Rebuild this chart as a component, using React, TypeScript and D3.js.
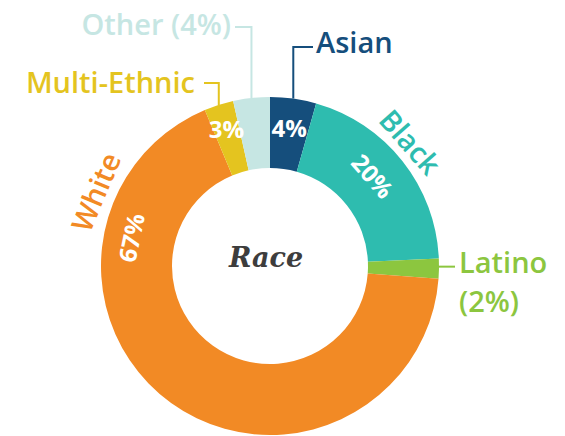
import React from 'react';
import * as d3 from 'd3';

// ---- data ----
const categories = ['Asian', 'Black', 'Latino', 'White', 'Multi-Ethnic', 'Other'];
const values = [4.4, 19.9, 1.9, 67.5, 2.8, 3.5];
const percentLabels = ['4%', '20%', '(2%)', '67%', '3%', '(4%)'];
const colors = ['#154e7c', '#2ebcaf', '#8cc63f', '#f28a25', '#e4c41f', '#c6e6e3'];
const centerTitle = 'Race';

// ---- layout ----
const W = 565;
const H = 436;
const cx = 270;
const cy = 266;
const R = 169;
const r0 = 98;
const FONT = '"Open Sans", Lato, sans-serif';

const toXY = (a: number, r: number): [number, number] => [cx + r * Math.sin(a), cy - r * Math.cos(a)];
const deg = (a: number) => (a * 180) / Math.PI;

export default function App() {
  const pie = d3.pie<number>().sort(null).value((d) => d);
  const arcs = pie(values);
  const arcGen = d3.arc<d3.PieArcDatum<number>>().innerRadius(r0).outerRadius(R);
  const mid = (i: number) => (arcs[i].startAngle + arcs[i].endAngle) / 2;

  const lbl = 29;
  const pct = 24;

  const iAsian = 0, iBlack = 1, iLatino = 2, iWhite = 3, iMulti = 4, iOther = 5;
  const pA = toXY(mid(iAsian), R);
  const pO = toXY(mid(iOther), R);
  const pM = toXY(mid(iMulti), R);
  const pL = toXY(mid(iLatino), R);

  const a4 = toXY(mid(iAsian), 140);
  const a3 = toXY(mid(iMulti), 144);
  const blackA = mid(iBlack) - 0.05;
  const b20 = toXY(blackA, 137);
  const bLbl = toXY((48.5 * Math.PI) / 180, 188);
  const whitePctA = (281.5 * Math.PI) / 180;
  const w67 = toXY(whitePctA, 142);
  const whiteLblA = (293 * Math.PI) / 180;
  const wLbl = toXY(whiteLblA, 190);

  return (
    <svg width={W} height={H} style={{ position: 'absolute', left: 0, top: 0, background: '#fff' }}>
      <g>
        {arcs.map((a, i) => (
          <path key={categories[i]} d={arcGen(a) || ''} transform={`translate(${cx},${cy})`} fill={colors[i]} />
        ))}
      </g>

      <g fill="none" strokeWidth={2}>
        <polyline points={`${pA[0]},${pA[1]} ${pA[0]},47 313,47`} stroke={colors[iAsian]} />
        <polyline points={`${pO[0]},${pO[1]} ${pO[0]},27 235,27`} stroke={colors[iOther]} />
        <polyline points={`${pM[0]},${pM[1]} ${pM[0]},83 204,83`} stroke={colors[iMulti]} />
        <polyline points={`${pL[0] - 2},${pL[1] - 2} 455,${pL[1] - 2}`} stroke={colors[iLatino]} />
      </g>

      <g fontFamily={FONT} fontWeight={600} fontSize={lbl}>
        <text x={316} y={53} fill={colors[iAsian]}>{categories[iAsian]}</text>
        <text x={231} y={35} textAnchor="end" fill={colors[iOther]}>
          {categories[iOther]} {percentLabels[iOther]}
        </text>
        <text x={195} y={93} textAnchor="end" fill={colors[iMulti]}>{categories[iMulti]}</text>
        <text x={459} y={273} fill={colors[iLatino]}>{categories[iLatino]}</text>
        <text x={459} y={312} fill={colors[iLatino]}>{percentLabels[iLatino]}</text>
        <text
          transform={`translate(${bLbl[0]},${bLbl[1]}) rotate(48.5)`}
          textAnchor="middle"
          dominantBaseline="central"
          fill={colors[iBlack]}
        >
          {categories[iBlack]}
        </text>
        <text
          transform={`translate(${wLbl[0]},${wLbl[1]}) rotate(${deg(whiteLblA) - 360})`}
          textAnchor="middle"
          dominantBaseline="central"
          fill={colors[iWhite]}
        >
          {categories[iWhite]}
        </text>
      </g>

      <g fontFamily={FONT} fontWeight={700} fontSize={pct} fill="#fff" textAnchor="middle" dominantBaseline="central">
        <text x={a4[0]} y={a4[1]}>{percentLabels[iAsian]}</text>
        <text x={a3[0]} y={a3[1]}>{percentLabels[iMulti]}</text>
        <text transform={`translate(${b20[0]},${b20[1]}) rotate(${deg(blackA)})`}>{percentLabels[iBlack]}</text>
        <text transform={`translate(${w67[0]},${w67[1]}) rotate(${deg(whitePctA) - 360})`}>{percentLabels[iWhite]}</text>
      </g>

      <text
        x={266}
        y={267}
        textAnchor="middle"
        fontFamily='"DejaVu Serif", serif'
        fontStyle="italic"
        fontWeight={700}
        fontSize={27}
        fill="#3d3d3d"
      >
        {centerTitle}
      </text>
    </svg>
  );
}
